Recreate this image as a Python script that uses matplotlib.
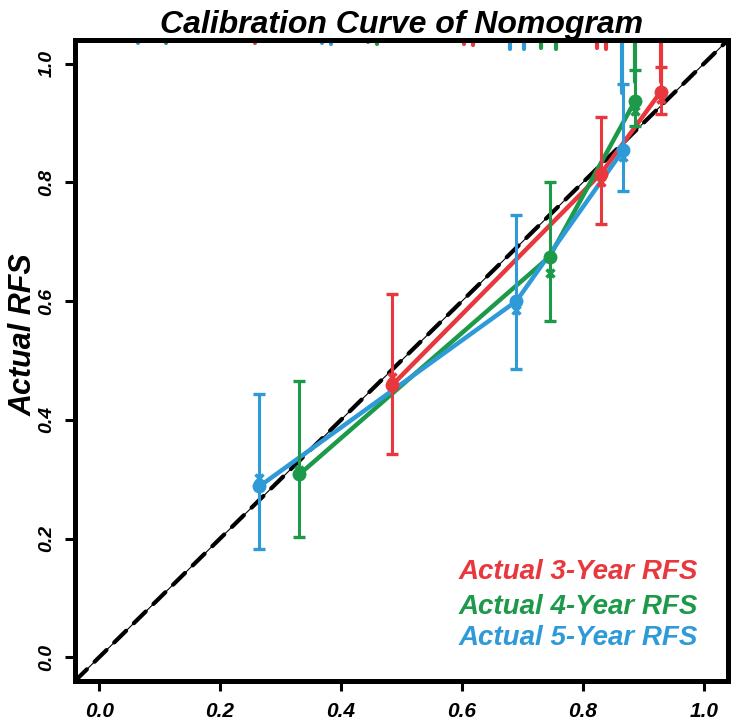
import matplotlib
matplotlib.use('Agg')
import numpy as np
import matplotlib.pyplot as plt

plt.rcParams['font.family'] = ['Liberation Sans', 'DejaVu Sans']

# Calibration groups: mean predicted vs observed (KM) with 95% CI
pred_3y = [0.485, 0.830, 0.929]
obs_3y = [0.459, 0.815, 0.953]
lo_3y = [0.343, 0.730, 0.915]
hi_3y = [0.612, 0.910, 0.995]
bc_3y = [0.472, 0.800, 0.940]   # bias-corrected (x marks)

pred_4y = [0.331, 0.745, 0.886]
obs_4y = [0.308, 0.675, 0.937]
lo_4y = [0.202, 0.567, 0.895]
hi_4y = [0.466, 0.800, 0.990]
bc_4y = [0.315, 0.648, 0.920]

pred_5y = [0.265, 0.690, 0.867]
obs_5y = [0.288, 0.600, 0.855]
lo_5y = [0.183, 0.485, 0.785]
hi_5y = [0.444, 0.745, 0.965]
bc_5y = [0.302, 0.585, 0.843]

# spike histogram of predictions along the top
rug_3y = [0.257, 0.604, 0.618, 0.824, 0.839, 0.929]
rug_h_3y = [0.005, 0.006, 0.008, 0.014, 0.016, 0.070]
rug_4y = [0.110, 0.444, 0.459, 0.730, 0.755, 0.886]
rug_h_4y = [0.005, 0.004, 0.006, 0.014, 0.016, 0.070]
rug_5y = [0.065, 0.368, 0.383, 0.679, 0.702, 0.865]
rug_h_5y = [0.005, 0.005, 0.006, 0.015, 0.015, 0.090]

labels = ['Actual 3-Year RFS', 'Actual 4-Year RFS', 'Actual 5-Year RFS']
colors = ['#E8383D', '#1C9A4A', '#2E9AD8']

fig = plt.figure(figsize=(7.35, 7.24), dpi=100)
ax = fig.add_axes([0.102, 0.0594, 0.8885, 0.8854])
ax.set_xlim(-0.04, 1.04)
ax.set_ylim(-0.04, 1.04)

# ideal line
ax.axline((0, 0), slope=1, color='black', lw=0.8, zorder=1)
ax.axline((0, 0), slope=1, color='black', lw=3, dashes=(4, 2.6),
          dash_capstyle='round', zorder=1)

series = [
    (pred_3y, obs_3y, lo_3y, hi_3y, bc_3y, rug_3y, rug_h_3y),
    (pred_4y, obs_4y, lo_4y, hi_4y, bc_4y, rug_4y, rug_h_4y),
    (pred_5y, obs_5y, lo_5y, hi_5y, bc_5y, rug_5y, rug_h_5y),
]

for (x, y, lo, hi, bc, rx, rh), col in zip(series, colors):
    x = np.array(x); y = np.array(y)
    ax.plot(x, y, color=col, lw=3.2, solid_capstyle='round', zorder=3)
    ax.errorbar(x, y, yerr=[y - np.array(lo), np.array(hi) - y], fmt='o',
                color=col, ms=9, elinewidth=2.2, capsize=4.5, capthick=2.4,
                zorder=4)
    ax.plot(x, bc, 'x', color=col, ms=6, mew=2.5, zorder=4)
    top = 1.04
    vl = ax.vlines(rx, top - np.array(rh), top, color=col, lw=3, zorder=2)
    vl.set_capstyle('round')

for lab, col, yy in zip(labels, colors, [0.170, 0.115, 0.067]):
    ax.text(0.954, yy, lab, transform=ax.transAxes, color=col, fontsize=20,
            fontweight='bold', fontstyle='italic', ha='right', va='center')

ticks = [0.0, 0.2, 0.4, 0.6, 0.8, 1.0]
ax.set_xticks(ticks)
ax.set_yticks(ticks)
ax.set_xticklabels([f'{t:.1f}' for t in ticks])
ax.set_yticklabels([f'{t:.1f}' for t in ticks], rotation=90, va='center')
ax.tick_params(direction='out', length=7, width=2.2)
ax.tick_params(axis='x', pad=8, labelsize=15)
ax.tick_params(axis='y', pad=7, labelsize=14)
for t in ax.get_xticklabels() + ax.get_yticklabels():
    t.set_fontweight('bold')
    t.set_fontstyle('italic')

for s in ax.spines.values():
    s.set_linewidth(3.6)

ax.set_title('Calibration Curve of Nomogram', fontsize=23, fontweight='bold',
             fontstyle='italic', pad=4)
ax.set_ylabel('Actual RFS', fontsize=22, fontweight='bold', fontstyle='italic')
ax.yaxis.set_label_coords(-0.056, 0.54)

fig.savefig('out.png', dpi=100)
